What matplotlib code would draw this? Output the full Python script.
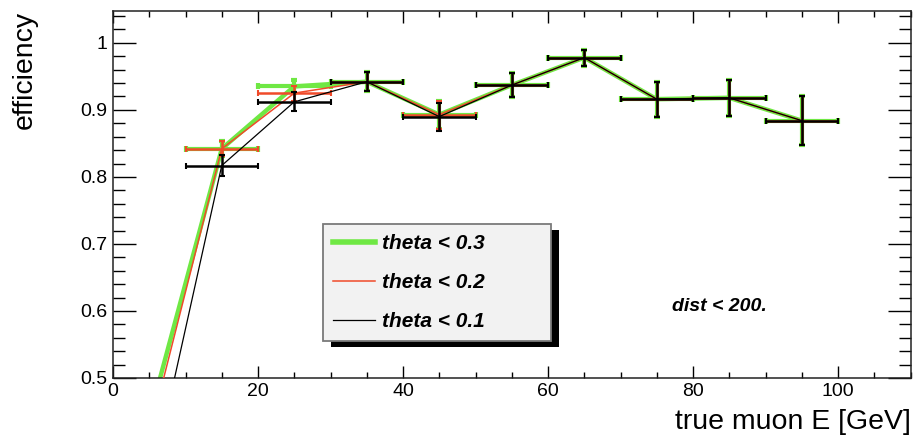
#! /usr/bin/env python3

import matplotlib
matplotlib.use("Agg")
import matplotlib.pyplot as plt
from matplotlib.patches import Rectangle
from matplotlib.ticker import MultipleLocator, FixedFormatter, FixedLocator

# energy bins (centre, half width) in GeV
energy = [5, 15, 25, 35, 45, 55, 65, 75, 85, 95]
half_width = [5, 5, 5, 5, 5, 5, 5, 5, 5, 5]

# efficiency for the three theta cuts
eff_03 = [0.440, 0.842, 0.935, 0.942, 0.893, 0.937, 0.978, 0.916, 0.918, 0.884]
err_03 = [0.030, 0.011, 0.010, 0.014, 0.021, 0.018, 0.012, 0.026, 0.027, 0.037]
eff_02 = [0.415, 0.842, 0.925, 0.942, 0.893, 0.937, 0.978, 0.916, 0.918, 0.884]
err_02 = [0.030, 0.011, 0.011, 0.014, 0.021, 0.018, 0.012, 0.026, 0.027, 0.037]
eff_01 = [0.330, 0.817, 0.912, 0.942, 0.890, 0.937, 0.978, 0.916, 0.918, 0.884]
err_01 = [0.030, 0.016, 0.014, 0.014, 0.021, 0.018, 0.012, 0.026, 0.027, 0.037]

labels = ['theta < 0.3', 'theta < 0.2', 'theta < 0.1']
y_ticks = [0.5, 0.6, 0.7, 0.8, 0.9, 1.0]
y_tick_labels = ['0.5', '0.6', '0.7', '0.8', '0.9', '1']

plt.rcParams['font.family'] = ['Liberation Sans', 'DejaVu Sans']

fig = plt.figure(figsize=(9.13, 4.43), dpi=100)
ax = fig.add_axes([113 / 913, 65 / 443, 797.5 / 913, 367.3 / 443])

green = '#6fe844'
red = '#f04a2a'

# theta < 0.3 (thick green, drawn first)
c03 = ax.errorbar(energy, eff_03, xerr=half_width, yerr=err_03, color=green, lw=3.2,
                  elinewidth=3.0, capsize=2.5, capthick=3.0, label=labels[0], zorder=2)
# theta < 0.2
c02 = ax.errorbar(energy, eff_02, xerr=half_width, yerr=err_02, color=red, lw=1.1,
                  elinewidth=1.8, capsize=2.5, capthick=1.5, label=labels[1], zorder=3)
# theta < 0.1
c01 = ax.errorbar(energy, eff_01, xerr=half_width, yerr=err_01, color='black', lw=0.9,
                  elinewidth=1.8, capsize=2.5, capthick=1.5, label=labels[2], zorder=4)

ax.set_xlim(0, 110)
ax.set_ylim(0.5, 1.048)

ax.xaxis.set_major_locator(MultipleLocator(20))
ax.xaxis.set_minor_locator(MultipleLocator(5))
ax.yaxis.set_major_locator(FixedLocator(y_ticks))
ax.yaxis.set_major_formatter(FixedFormatter(y_tick_labels))
ax.yaxis.set_minor_locator(MultipleLocator(0.02))

ax.tick_params(which='both', direction='in', top=True, right=True, width=1.0,
               labelsize=14, colors='black')
ax.tick_params(axis='x', which='major', length=8.6, pad=3.5)
ax.tick_params(axis='x', which='minor', length=4.6)
ax.tick_params(axis='y', which='major', length=16.5, pad=4.3)
ax.tick_params(axis='y', which='minor', length=8.6)
for s in ax.spines.values():
    s.set_linewidth(1.1)
    s.set_color('#222222')

ax.set_xlabel('true muon E [GeV]', fontsize=20.5, ha='right', va='top')
ax.xaxis.set_label_coords(1.0, -0.085)
ax.set_ylabel('efficiency', fontsize=20.5, loc='top')
ax.yaxis.set_label_coords(-0.094, 1.0)

ax.text(0.701, 0.182, 'dist < 200.', transform=ax.transAxes, fontsize=14,
        fontweight='bold', fontstyle='italic', va='baseline')

# legend box with a hard ROOT style shadow
x0 = (323 - 113) / 797.5
x1 = (551 - 113) / 797.5
y0 = (378 - 342) / 367.3
y1 = (378 - 223) / 367.3
handles = [c03[0], c02[0], c01[0]]
leg = ax.legend(handles, labels, loc='center', bbox_to_anchor=(x0, y0, x1 - x0, y1 - y0),
                mode='expand', fancybox=False, framealpha=1.0,
                prop={'weight': 'bold', 'style': 'italic', 'size': 15},
                borderpad=0.5, labelspacing=0.96, handlelength=2.0,
                handletextpad=0.35, borderaxespad=0.0)
leg.get_frame().set_facecolor('#f2f2f2')
leg.get_frame().set_edgecolor('#7a7a7a')
leg.get_frame().set_linewidth(1.3)
leg.get_lines()[0].set_linewidth(4.0)
leg.set_zorder(10)

fig.canvas.draw()
bb = leg.get_window_extent()
shadow = Rectangle((bb.x0 + 8, bb.y0 - 6), bb.width, bb.height, transform=None,
                   facecolor='black', edgecolor='none', zorder=9, clip_on=False)
ax.add_artist(shadow)

fig.savefig('out.png', dpi=100)
